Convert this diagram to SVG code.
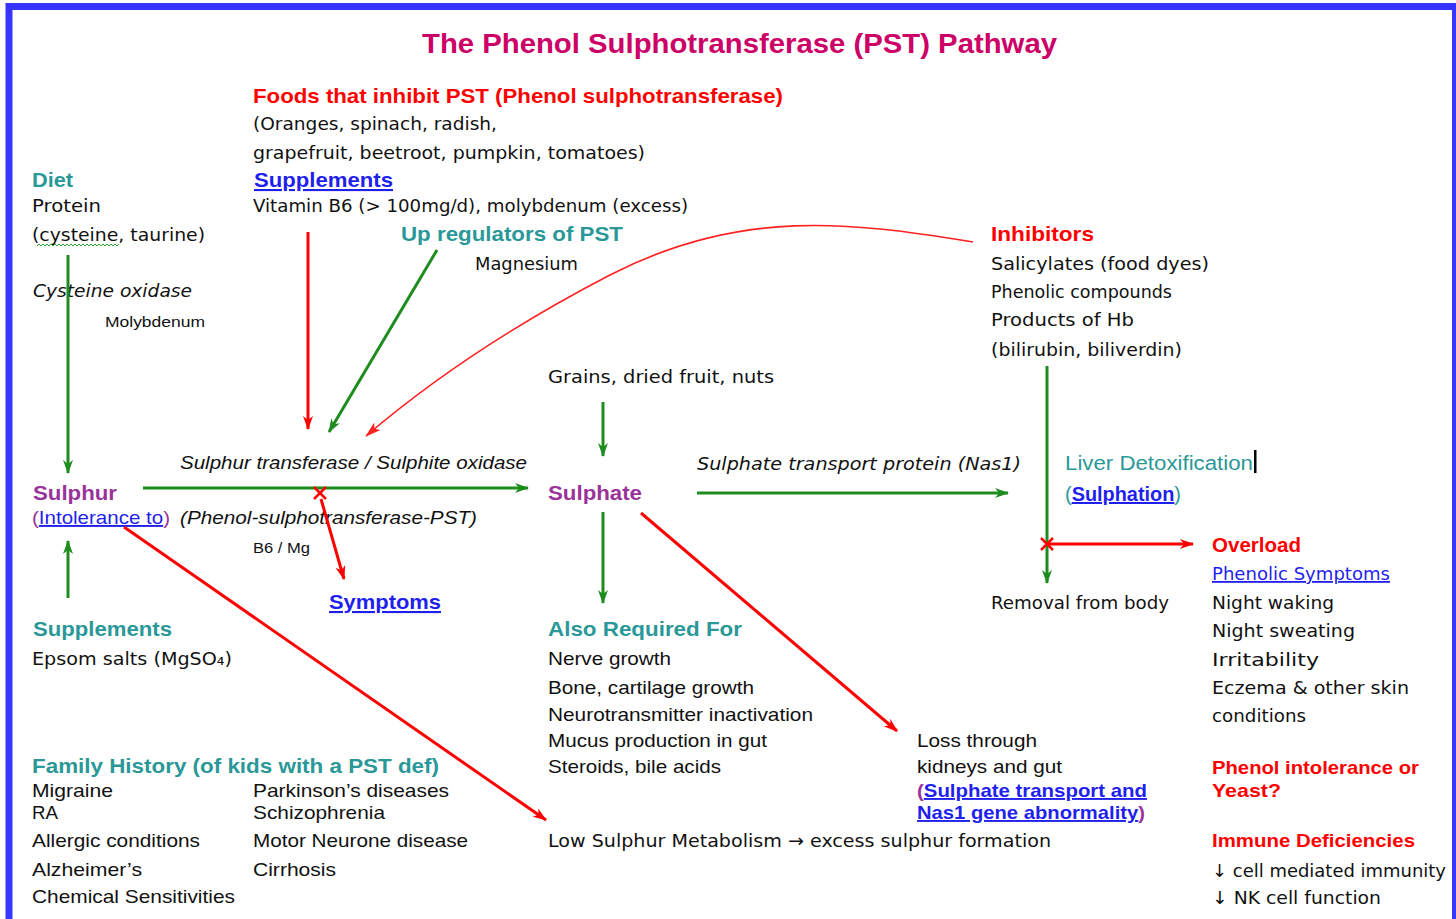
<svg xmlns="http://www.w3.org/2000/svg" width="1456" height="919" viewBox="0 0 1456 919">
<defs>
<style>
.c{font-family:"DejaVu Sans",sans-serif;font-size:18px;fill:#111}
.ci{font-family:"DejaVu Sans",sans-serif;font-size:18px;fill:#111;font-style:italic}
.a{font-family:"Liberation Sans",Arial,sans-serif;font-size:19px;fill:#111}
.ai{font-family:"Liberation Sans",Arial,sans-serif;font-size:19px;fill:#111;font-style:italic}
.s{font-family:"Liberation Sans",Arial,sans-serif;font-size:15px;fill:#111}
.teal{font-family:"Liberation Sans",Arial,sans-serif;font-size:21px;font-weight:bold;fill:#2A9898}
.red{font-family:"Liberation Sans",Arial,sans-serif;font-size:21px;font-weight:bold;fill:#FF0000}
.redA{font-family:"Liberation Sans",Arial,sans-serif;font-size:19px;font-weight:bold;fill:#FF0000}
.pur{font-family:"Liberation Sans",Arial,sans-serif;font-size:21px;font-weight:bold;fill:#993399}
.lnk{font-family:"Liberation Sans",Arial,sans-serif;font-size:21px;font-weight:bold;fill:#1F1FEE;text-decoration:underline}
.g{stroke:#1E8C1E;stroke-width:3;fill:none}
.r{stroke:#FF0000;stroke-width:3;fill:none}
.rt{stroke:#FF2020;stroke-width:1.6;fill:none}
</style>
<marker id="ag" viewBox="0 0 14 10" refX="13" refY="5" markerWidth="14" markerHeight="10" markerUnits="userSpaceOnUse" orient="auto"><path d="M0,0 L14,5 L0,10 L4,5 z" fill="#1E8C1E"/></marker>
<marker id="ar" viewBox="0 0 14 10" refX="13" refY="5" markerWidth="14" markerHeight="10" markerUnits="userSpaceOnUse" orient="auto"><path d="M0,0 L14,5 L0,10 L4,5 z" fill="#FF0000"/></marker>
<marker id="art" viewBox="0 0 16 10" refX="15" refY="5" markerWidth="16" markerHeight="10" markerUnits="userSpaceOnUse" orient="auto"><path d="M0,0 L16,5 L0,10 L4,5 z" fill="#FF2020"/></marker>
</defs>
<rect x="0" y="0" width="1456" height="919" fill="#fff"/>
<rect x="9" y="6.5" width="1446.5" height="960" fill="none" stroke="#3636FF" stroke-width="7"/>

<text x="422" y="53" textLength="635" lengthAdjust="spacingAndGlyphs" style="font-family:'Liberation Sans',Arial,sans-serif;font-size:27px;font-weight:bold;fill:#CC0066">The Phenol Sulphotransferase (PST) Pathway</text>

<g id="foods">
<text class="red" x="253" y="103" textLength="530" lengthAdjust="spacingAndGlyphs">Foods that inhibit PST (Phenol sulphotransferase)</text>
<text class="c" x="253" y="130" textLength="244" lengthAdjust="spacingAndGlyphs">(Oranges, spinach, radish,</text>
<text class="c" x="253" y="159" textLength="392" lengthAdjust="spacingAndGlyphs">grapefruit, beetroot, pumpkin, tomatoes)</text>
<text class="lnk" x="254" y="187" textLength="139" lengthAdjust="spacingAndGlyphs">Supplements</text>
<text class="c" x="253" y="212" textLength="435" lengthAdjust="spacingAndGlyphs">Vitamin B6 (&gt; 100mg/d),  molybdenum (excess)</text>
</g>

<g id="upregulators">
<text class="teal" x="401" y="241" textLength="222" lengthAdjust="spacingAndGlyphs">Up regulators of PST</text>
<text class="c" x="475" y="270" textLength="103" lengthAdjust="spacingAndGlyphs">Magnesium</text>
</g>

<g id="diet">
<text class="teal" x="32" y="187" textLength="41" lengthAdjust="spacingAndGlyphs">Diet</text>
<text class="c" x="32" y="212" textLength="69" lengthAdjust="spacingAndGlyphs">Protein</text>
<text class="c" x="32" y="241" textLength="173" lengthAdjust="spacingAndGlyphs">(cysteine, taurine)</text>
<path d="M37,246 l2,-2 l2,2 l2,-2 l2,2 l2,-2 l2,2 l2,-2 l2,2 l2,-2 l2,2 l2,-2 l2,2 l2,-2 l2,2 l2,-2 l2,2 l2,-2 l2,2 l2,-2 l2,2 l2,-2 l2,2 l2,-2 l2,2 l2,-2 l2,2 l2,-2 l2,2 l2,-2 l2,2 l2,-2 l2,2 l2,-2 l2,2 l2,-2 l2,2 l2,-2 l2,2 l2,-2 l2,2 l2,-2" fill="none" stroke="#2EA02E" stroke-width="1"/>
<text class="ci" x="33" y="297" textLength="159" lengthAdjust="spacingAndGlyphs">Cysteine oxidase</text>
<text class="s" x="105" y="327" textLength="100" lengthAdjust="spacingAndGlyphs">Molybdenum</text>
</g>

<g id="inhibitors">
<text class="red" x="991" y="241" textLength="103" lengthAdjust="spacingAndGlyphs">Inhibitors</text>
<text class="c" x="991" y="270" textLength="218" lengthAdjust="spacingAndGlyphs">Salicylates (food dyes)</text>
<text class="c" x="991" y="298" textLength="181" lengthAdjust="spacingAndGlyphs">Phenolic compounds</text>
<text class="c" x="991" y="326" textLength="143" lengthAdjust="spacingAndGlyphs">Products of Hb</text>
<text class="c" x="991" y="356" textLength="191" lengthAdjust="spacingAndGlyphs">(bilirubin, biliverdin)</text>
</g>

<g id="grains">
<text class="c" x="548" y="383" textLength="226" lengthAdjust="spacingAndGlyphs">Grains, dried fruit, nuts</text>
</g>

<g id="enzyme">
<text class="ai" x="180" y="469" textLength="347" lengthAdjust="spacingAndGlyphs">Sulphur transferase / Sulphite oxidase</text>
<text class="ai" x="180" y="524" textLength="297" lengthAdjust="spacingAndGlyphs">(Phenol-sulphotransferase-PST)</text>
<text class="s" x="253" y="553" textLength="57" lengthAdjust="spacingAndGlyphs">B6 / Mg</text>
</g>

<g id="sulphur">
<text class="pur" x="33" y="500" textLength="84" lengthAdjust="spacingAndGlyphs">Sulphur</text>
<text class="a" x="32" y="524" textLength="138" lengthAdjust="spacingAndGlyphs"><tspan fill="#993399">(</tspan><tspan fill="#1F1FEE" text-decoration="underline">Intolerance to</tspan><tspan fill="#993399">)</tspan></text>
</g>

<g id="symptoms">
<text class="lnk" x="329" y="609" textLength="112" lengthAdjust="spacingAndGlyphs">Symptoms</text>
</g>

<g id="supplements2">
<text class="teal" x="33" y="636" textLength="139" lengthAdjust="spacingAndGlyphs">Supplements</text>
<text class="c" x="32" y="665" textLength="200" lengthAdjust="spacingAndGlyphs">Epsom salts (MgSO₄)</text>
</g>

<g id="sulphate">
<text class="pur" x="548" y="500" textLength="94" lengthAdjust="spacingAndGlyphs">Sulphate</text>
<text class="ci" x="697" y="470" textLength="324" lengthAdjust="spacingAndGlyphs">Sulphate transport protein (Nas1)</text>
</g>

<g id="liver">
<text x="1065" y="470" textLength="188" lengthAdjust="spacingAndGlyphs" style="font-family:'Liberation Sans',Arial,sans-serif;font-size:20px;fill:#2A9898">Liver Detoxification</text>
<rect x="1254" y="450" width="2.5" height="23" fill="#000"/>
<text x="1065" y="501" textLength="116" lengthAdjust="spacingAndGlyphs" style="font-family:'Liberation Sans',Arial,sans-serif;font-size:20px;fill:#2A9898">(<tspan font-weight="bold" fill="#1F1FEE" text-decoration="underline">Sulphation</tspan>)</text>
</g>

<g id="removal">
<text class="c" x="991" y="609" textLength="178" lengthAdjust="spacingAndGlyphs">Removal from body</text>
</g>

<g id="overload">
<text class="red" x="1212" y="552" textLength="89" lengthAdjust="spacingAndGlyphs">Overload</text>
<text class="c" x="1212" y="580" textLength="178" lengthAdjust="spacingAndGlyphs" style="fill:#1F1FEE;text-decoration:underline">Phenolic Symptoms</text>
<text class="c" x="1212" y="609" textLength="122" lengthAdjust="spacingAndGlyphs">Night waking</text>
<text class="c" x="1212" y="637" textLength="143" lengthAdjust="spacingAndGlyphs">Night sweating</text>
<text class="c" x="1212" y="666" textLength="107" lengthAdjust="spacingAndGlyphs">Irritability</text>
<text class="c" x="1212" y="694" textLength="197" lengthAdjust="spacingAndGlyphs">Eczema &amp; other skin</text>
<text class="c" x="1212" y="722" textLength="94" lengthAdjust="spacingAndGlyphs">conditions</text>
</g>

<g id="phenol-yeast">
<text class="redA" x="1212" y="774" textLength="207" lengthAdjust="spacingAndGlyphs">Phenol intolerance or</text>
<text class="redA" x="1212" y="797" textLength="69" lengthAdjust="spacingAndGlyphs">Yeast?</text>
</g>

<g id="immune">
<text class="redA" x="1212" y="847" textLength="203" lengthAdjust="spacingAndGlyphs">Immune Deficiencies</text>
<text class="c" x="1212" y="877" textLength="234" lengthAdjust="spacingAndGlyphs">↓ cell mediated immunity</text>
<text class="c" x="1212" y="904" textLength="169" lengthAdjust="spacingAndGlyphs">↓ NK cell function</text>
</g>

<g id="also-required">
<text class="teal" x="548" y="636" textLength="194" lengthAdjust="spacingAndGlyphs">Also Required For</text>
<text class="a" x="548" y="665" textLength="123" lengthAdjust="spacingAndGlyphs">Nerve growth</text>
<text class="a" x="548" y="694" textLength="206" lengthAdjust="spacingAndGlyphs">Bone, cartilage growth</text>
<text class="a" x="548" y="721" textLength="265" lengthAdjust="spacingAndGlyphs">Neurotransmitter inactivation</text>
<text class="a" x="548" y="747" textLength="219" lengthAdjust="spacingAndGlyphs">Mucus production in gut</text>
<text class="a" x="548" y="773" textLength="173" lengthAdjust="spacingAndGlyphs">Steroids, bile acids</text>
</g>

<g id="loss">
<text class="a" x="917" y="747" textLength="120" lengthAdjust="spacingAndGlyphs">Loss through</text>
<text class="a" x="917" y="773" textLength="145" lengthAdjust="spacingAndGlyphs">kidneys and gut</text>
<text class="a" x="917" y="797" textLength="230" lengthAdjust="spacingAndGlyphs" font-weight="bold"><tspan fill="#993399">(</tspan><tspan fill="#1F1FEE" text-decoration="underline">Sulphate transport and</tspan></text>
<text class="a" x="917" y="819" textLength="228" lengthAdjust="spacingAndGlyphs" font-weight="bold"><tspan fill="#1F1FEE" text-decoration="underline">Nas1 gene abnormality</tspan><tspan fill="#993399">)</tspan></text>
</g>

<g id="low-sulphur">
<text class="c" x="548" y="847" textLength="503" lengthAdjust="spacingAndGlyphs">Low Sulphur Metabolism → excess sulphur formation</text>
</g>

<g id="family-history">
<text class="teal" x="32" y="773" textLength="407" lengthAdjust="spacingAndGlyphs">Family History (of kids with a PST def)</text>
<text class="a" x="32" y="797" textLength="81" lengthAdjust="spacingAndGlyphs">Migraine</text>
<text class="a" x="32" y="819" textLength="26" lengthAdjust="spacingAndGlyphs">RA</text>
<text class="a" x="32" y="847" textLength="168" lengthAdjust="spacingAndGlyphs">Allergic conditions</text>
<text class="a" x="32" y="876" textLength="110" lengthAdjust="spacingAndGlyphs">Alzheimer’s</text>
<text class="a" x="32" y="903" textLength="203" lengthAdjust="spacingAndGlyphs">Chemical Sensitivities</text>
<text class="a" x="253" y="797" textLength="196" lengthAdjust="spacingAndGlyphs">Parkinson’s diseases</text>
<text class="a" x="253" y="819" textLength="132" lengthAdjust="spacingAndGlyphs">Schizophrenia</text>
<text class="a" x="253" y="847" textLength="215" lengthAdjust="spacingAndGlyphs">Motor Neurone disease</text>
<text class="a" x="253" y="876" textLength="83" lengthAdjust="spacingAndGlyphs">Cirrhosis</text>
</g>

<g id="connectors">
<line class="g" x1="68" y1="255" x2="68" y2="473" marker-end="url(#ag)"/>
<line class="g" x1="68" y1="598" x2="68" y2="541" marker-end="url(#ag)"/>
<line class="g" x1="143" y1="488" x2="528" y2="488" marker-end="url(#ag)"/>
<line class="r" x1="308" y1="232" x2="308" y2="429" marker-end="url(#ar)"/>
<line class="g" x1="437" y1="250" x2="329" y2="432" marker-end="url(#ag)"/>
<path class="rt" d="M973,242 C850,222 740,208 610,275 C500,332 420,390 366,436" marker-end="url(#art)"/>
<line class="r" x1="321" y1="499" x2="344" y2="579" marker-end="url(#ar)"/>
<line class="g" x1="603" y1="402" x2="603" y2="456" marker-end="url(#ag)"/>
<line class="g" x1="603" y1="512" x2="603" y2="603" marker-end="url(#ag)"/>
<line class="r" x1="641" y1="513" x2="897" y2="731" marker-end="url(#ar)"/>
<line class="r" x1="124" y1="527" x2="546" y2="820" marker-end="url(#ar)"/>
<line class="g" x1="697" y1="493" x2="1008" y2="493" marker-end="url(#ag)"/>
<line class="g" x1="1047" y1="366" x2="1047" y2="583" marker-end="url(#ag)"/>
<line class="r" x1="1047" y1="544" x2="1193" y2="544" marker-end="url(#ar)"/>
<path d="M314,487 L326,499 M326,487 L314,499" stroke="#FF0000" stroke-width="2.5" fill="none"/>
<path d="M1041,538 L1053,550 M1053,538 L1041,550" stroke="#FF0000" stroke-width="2.5" fill="none"/>
</g>
</svg>
